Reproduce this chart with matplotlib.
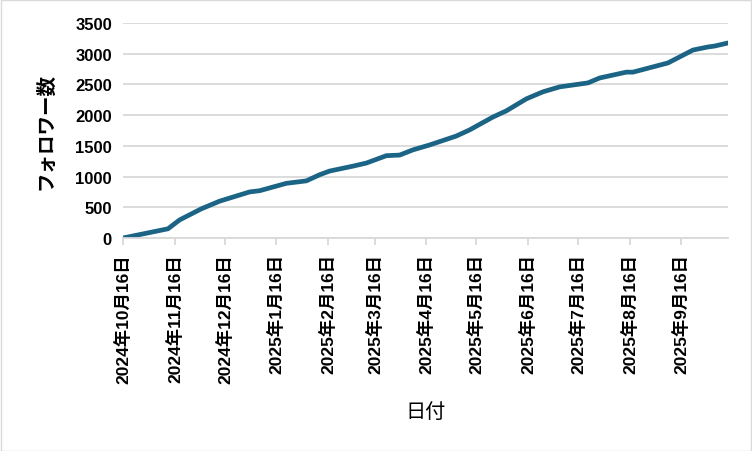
import matplotlib
matplotlib.use('Agg')
import matplotlib.pyplot as plt
from matplotlib.patches import Rectangle
import pandas as pd

plt.rcParams['font.family'] = ['Liberation Sans', 'Noto Sans CJK JP', 'DejaVu Sans']

# data
dates = ['2024-10-16', '2024-11-12', '2024-11-19', '2024-12-02', '2024-12-13',
         '2024-12-25', '2024-12-31', '2025-01-06', '2025-01-22', '2025-02-03',
         '2025-02-11', '2025-02-17', '2025-03-03', '2025-03-11', '2025-03-23',
         '2025-03-31', '2025-04-08', '2025-04-18', '2025-05-04', '2025-05-12',
         '2025-05-26', '2025-06-03', '2025-06-15', '2025-06-25', '2025-07-05',
         '2025-07-22', '2025-07-29', '2025-08-14', '2025-08-18', '2025-09-08',
         '2025-09-23', '2025-10-02', '2025-10-06', '2025-10-14']
followers = [0, 150, 295, 475, 600,
             700, 750, 770, 890, 930,
             1030, 1090, 1170, 1220, 1340,
             1350, 1435, 1515, 1660, 1760,
             1970, 2070, 2265, 2380, 2460,
             2525, 2605, 2700, 2700, 2850,
             3060, 3110, 3125, 3175]
tick_dates = pd.date_range('2024-10-01', '2025-09-01', freq='MS') + pd.Timedelta(days=15)
y_ticks = [0, 500, 1000, 1500, 2000, 2500, 3000, 3500]

x = pd.to_datetime(dates)

fig = plt.figure(figsize=(7.52, 4.52), dpi=100)
ax = fig.add_axes([123 / 752, 1 - 239 / 452, (728 - 123) / 752, (239 - 24) / 452])

ax.plot(x, followers, color='#1b6485', linewidth=3.4, solid_capstyle='round')

ax.set_xlim(pd.Timestamp('2024-10-16'), pd.Timestamp('2025-10-14'))
ax.set_ylim(0, 3500)
ax.set_yticks(y_ticks)
ax.set_xticks(tick_dates)
ax.set_xticklabels([f'{d.year}年{d.month}月{d.day}日' for d in tick_dates],
                   rotation=90, fontsize=12.5, fontweight='bold')
for lab in ax.get_yticklabels():
    lab.set_fontsize(12)
    lab.set_fontweight('bold')

ax.grid(axis='y', color='#d9d9d9', linewidth=1.3)
ax.set_axisbelow(True)
for s in ['top', 'right', 'left']:
    ax.spines[s].set_visible(False)
ax.spines['bottom'].set_color('#d9d9d9')
ax.spines['bottom'].set_linewidth(1.3)
ax.tick_params(axis='y', length=0, pad=8)
ax.tick_params(axis='x', length=5, color='#d9d9d9', width=1.3, pad=6)

ax.set_ylabel('フォロワー数', fontsize=14, fontweight='bold', labelpad=14)
ax.set_xlabel('日付', fontsize=14.5, labelpad=14)

fig.patches.append(Rectangle((0.5 / 752, 0.5 / 452), 1 - 1.5 / 752, 1 - 1.5 / 452,
                             transform=fig.transFigure, fill=False,
                             edgecolor='#d9d9d9', linewidth=1))

fig.savefig('out.png', dpi=100)
